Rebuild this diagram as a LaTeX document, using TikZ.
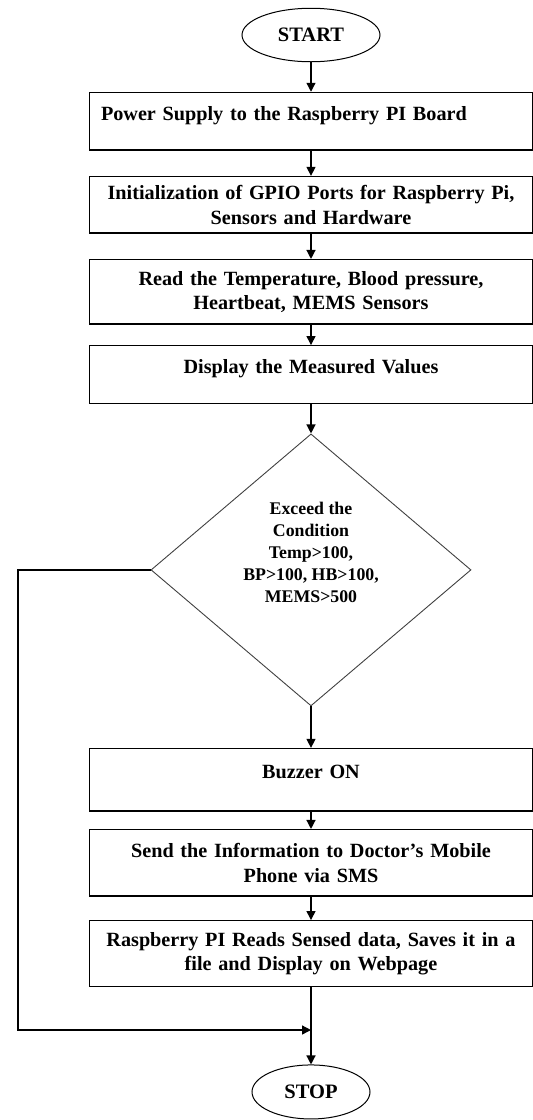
\documentclass[tikz,border=0pt]{standalone}
\usepackage{fontspec}
\setmainfont{Liberation Serif}
\usetikzlibrary{positioning,shapes.geometric,arrows.meta}

\tikzset{
    proc/.style={draw, line width=1.4pt, minimum width=443pt, text width=420pt,
        align=center, inner sep=4pt, font=\fontsize{20.2}{24.5}\selectfont\bfseries},
    oneline/.style={text depth=16pt},
    term/.style={draw, ellipse, line width=1pt, inner sep=0pt,
        font=\fontsize{20.5}{22}\selectfont\bfseries},
    decide/.style={draw, diamond, line width=0.9pt, draw=black!75, inner sep=0pt,
        minimum width=320pt, minimum height=272pt, align=center,
        font=\fontsize{17.8}{22}\selectfont\bfseries}
}

\begin{document}
\begin{tikzpicture}[x=1pt, y=1pt, ->, >={Triangle[length=9pt,width=9pt]}, line width=1.3pt]
            \useasboundingbox (0,0) rectangle (533,-1120);

            \node (start) [term, minimum width=138pt, minimum height=53.5pt] at (311,-35) {START};
            \node (power) [proc, oneline, align=left, minimum height=57.5pt, below=29.5pt of start] {Power Supply to the Raspberry PI Board};
            \node (gpio) [proc, minimum height=56.5pt, below=25.2pt of power] {Initialization of GPIO Ports for Raspberry Pi,\\ Sensors and Hardware};
            \node (read) [proc, minimum height=64.5pt, below=25.2pt of gpio] {Read the Temperature, Blood pressure,\\ Heartbeat, MEMS Sensors};
            \node (disp) [proc, oneline, minimum height=57.5pt, below=20.2pt of read] {Display the Measured Values};
            \node (check) [decide, below=29.5pt of disp] {Exceed the\\ Condition\\ Temp>100,\\ BP>100, HB>100,\\ MEMS>500\\[14pt]};
            \node (buzz) [proc, oneline, minimum height=62.5pt, below=41.5pt of check] {Buzzer ON};
            \node (sms) [proc, minimum height=66.5pt, below=17.2pt of buzz] {Send the Information to Doctor's Mobile\\ Phone via SMS};
            \node (web) [proc, minimum height=65.5pt, below=23.2pt of sms] {Raspberry PI Reads Sensed data, Saves it in a\\ file and Display on Webpage};
            \node (stop) [term, minimum width=118pt, minimum height=54pt, below=77.5pt of web] {STOP};

            \coordinate (c1) at (check.west -| 18,0);
            \coordinate (c2) at (18,-1030);
            \coordinate (join) at (web.south |- c2);

            \path
            (start) edge (power)
            (power) edge (gpio)
            (gpio) edge (read)
            (read) edge (disp)
            (disp) edge (check)
            (check) edge (buzz)
            (buzz) edge (sms)
            (sms) edge (web)
            (web) edge (stop);

            \draw (check.west) -- (c1) -- (c2) -- (join);
        \end{tikzpicture}
\end{document}
